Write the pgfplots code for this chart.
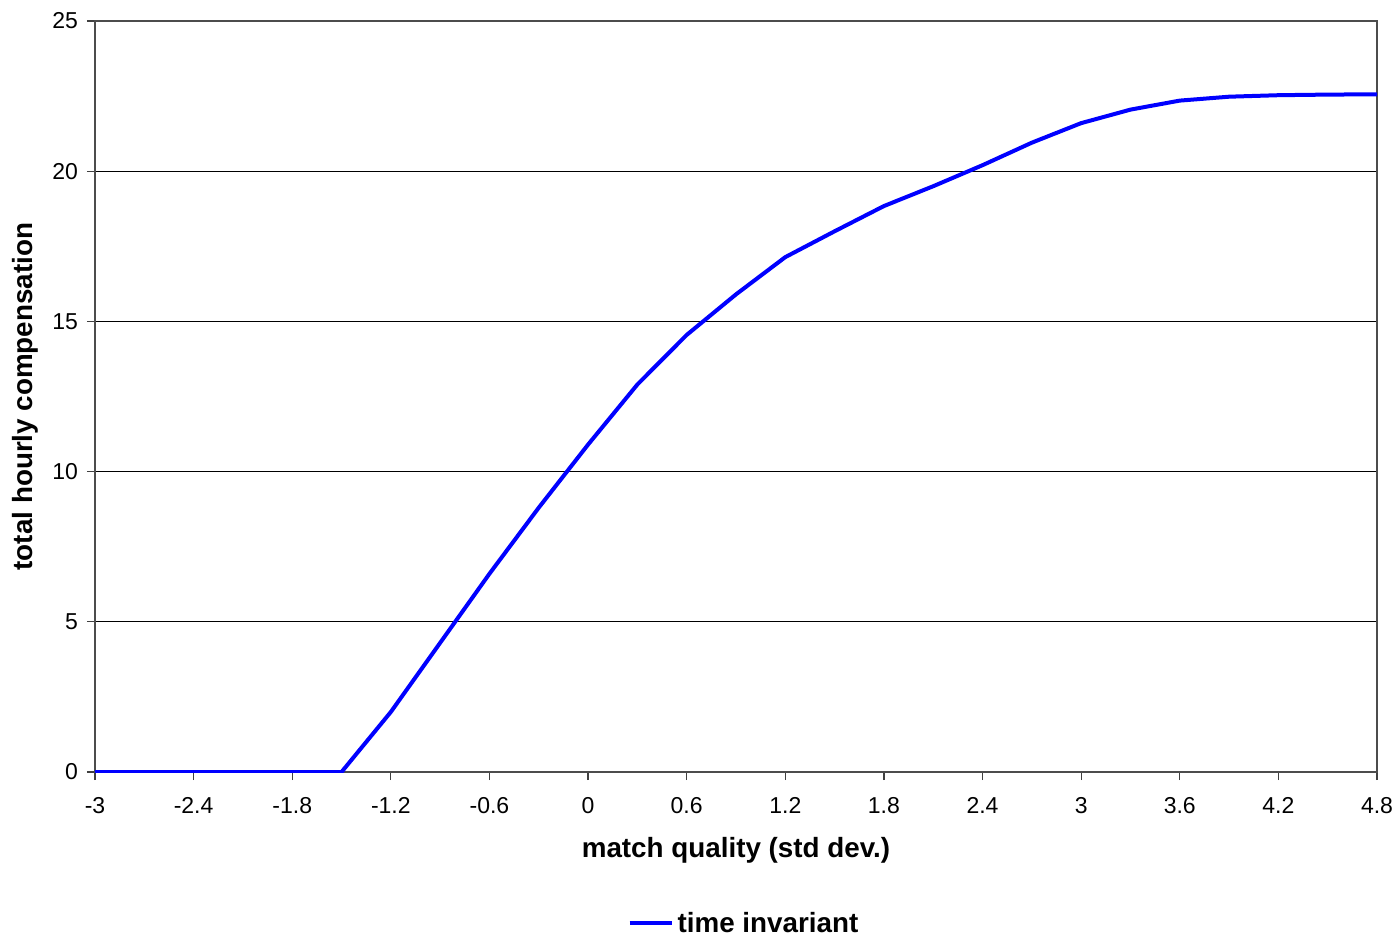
\documentclass[border=0pt]{standalone}
\usepackage{fontspec}
\setmainfont{Liberation Sans}
\usepackage{pgfplots}
\pgfplotsset{compat=1.18}
\begin{document}
\begin{tikzpicture}
\begin{axis}[
  name=ax,
  scale only axis,
  width=641pt, height=375.5pt,
  xmin=-3, xmax=4.8, ymin=0, ymax=25,
  xtick={-3,-2.4,...,4.81},
  xticklabels={-3,-2.4,-1.8,-1.2,-0.6,0,0.6,1.2,1.8,2.4,3,3.6,4.2,4.8},
  ytick={0,5,...,25},
  xtick pos=bottom, ytick pos=left,
  tick align=outside,
  major tick length=4pt,
  tick style={black!75, line width=0.6pt},
  axis line style={black!70, line width=0.6pt},
  ymajorgrids,
  major grid style={black, line width=0.5pt},
  /pgf/number format/assume math mode=true,
  ticklabel style={font=\fontsize{11.5}{13}\selectfont},
  xticklabel style={yshift=-5pt},
  yticklabel style={xshift=-1pt},
  xlabel={\textbf{match quality (std dev.)}},
  ylabel={\textbf{total hourly compensation}},
  label style={font=\fontsize{13.9}{16}\selectfont},
  xlabel style={at={(0.5,-0.1045)}, anchor=center},
  ylabel style={at={(-0.0546,0.5)}, anchor=center},
  legend style={at={(0.507,-0.2017)}, anchor=center, draw=none,
    font=\fontsize{13.9}{16}\selectfont\bfseries, inner sep=0pt},
  legend image code/.code={\draw[#1] (0pt,0pt) -- (21pt,0pt);},
  legend cell align=left,
]
\addplot[blue, line width=2pt] coordinates {
(-3,0) (-2.7,0) (-2.4,0) (-2.1,0) (-1.8,0) (-1.5,0)
(-1.2,2.0) (-0.9,4.3) (-0.6,6.6) (-0.3,8.8) (0,10.9) (0.3,12.9)
(0.6,14.55) (0.9,15.9) (1.2,17.14) (1.5,18.0) (1.8,18.84) (2.1,19.5)
(2.4,20.2) (2.7,20.95) (3.0,21.6) (3.3,22.05) (3.6,22.35) (3.9,22.48)
(4.2,22.53) (4.5,22.55) (4.8,22.56)
};
\addlegendentry{time invariant}
\end{axis}
\pgfresetboundingbox
\path (ax.south west) ++(-47.5pt,-83.5pt) coordinate (bl);
\path (ax.north east) ++(10pt,10.5pt) coordinate (tr);
\useasboundingbox (bl) rectangle (tr);
\end{tikzpicture}
\end{document}
